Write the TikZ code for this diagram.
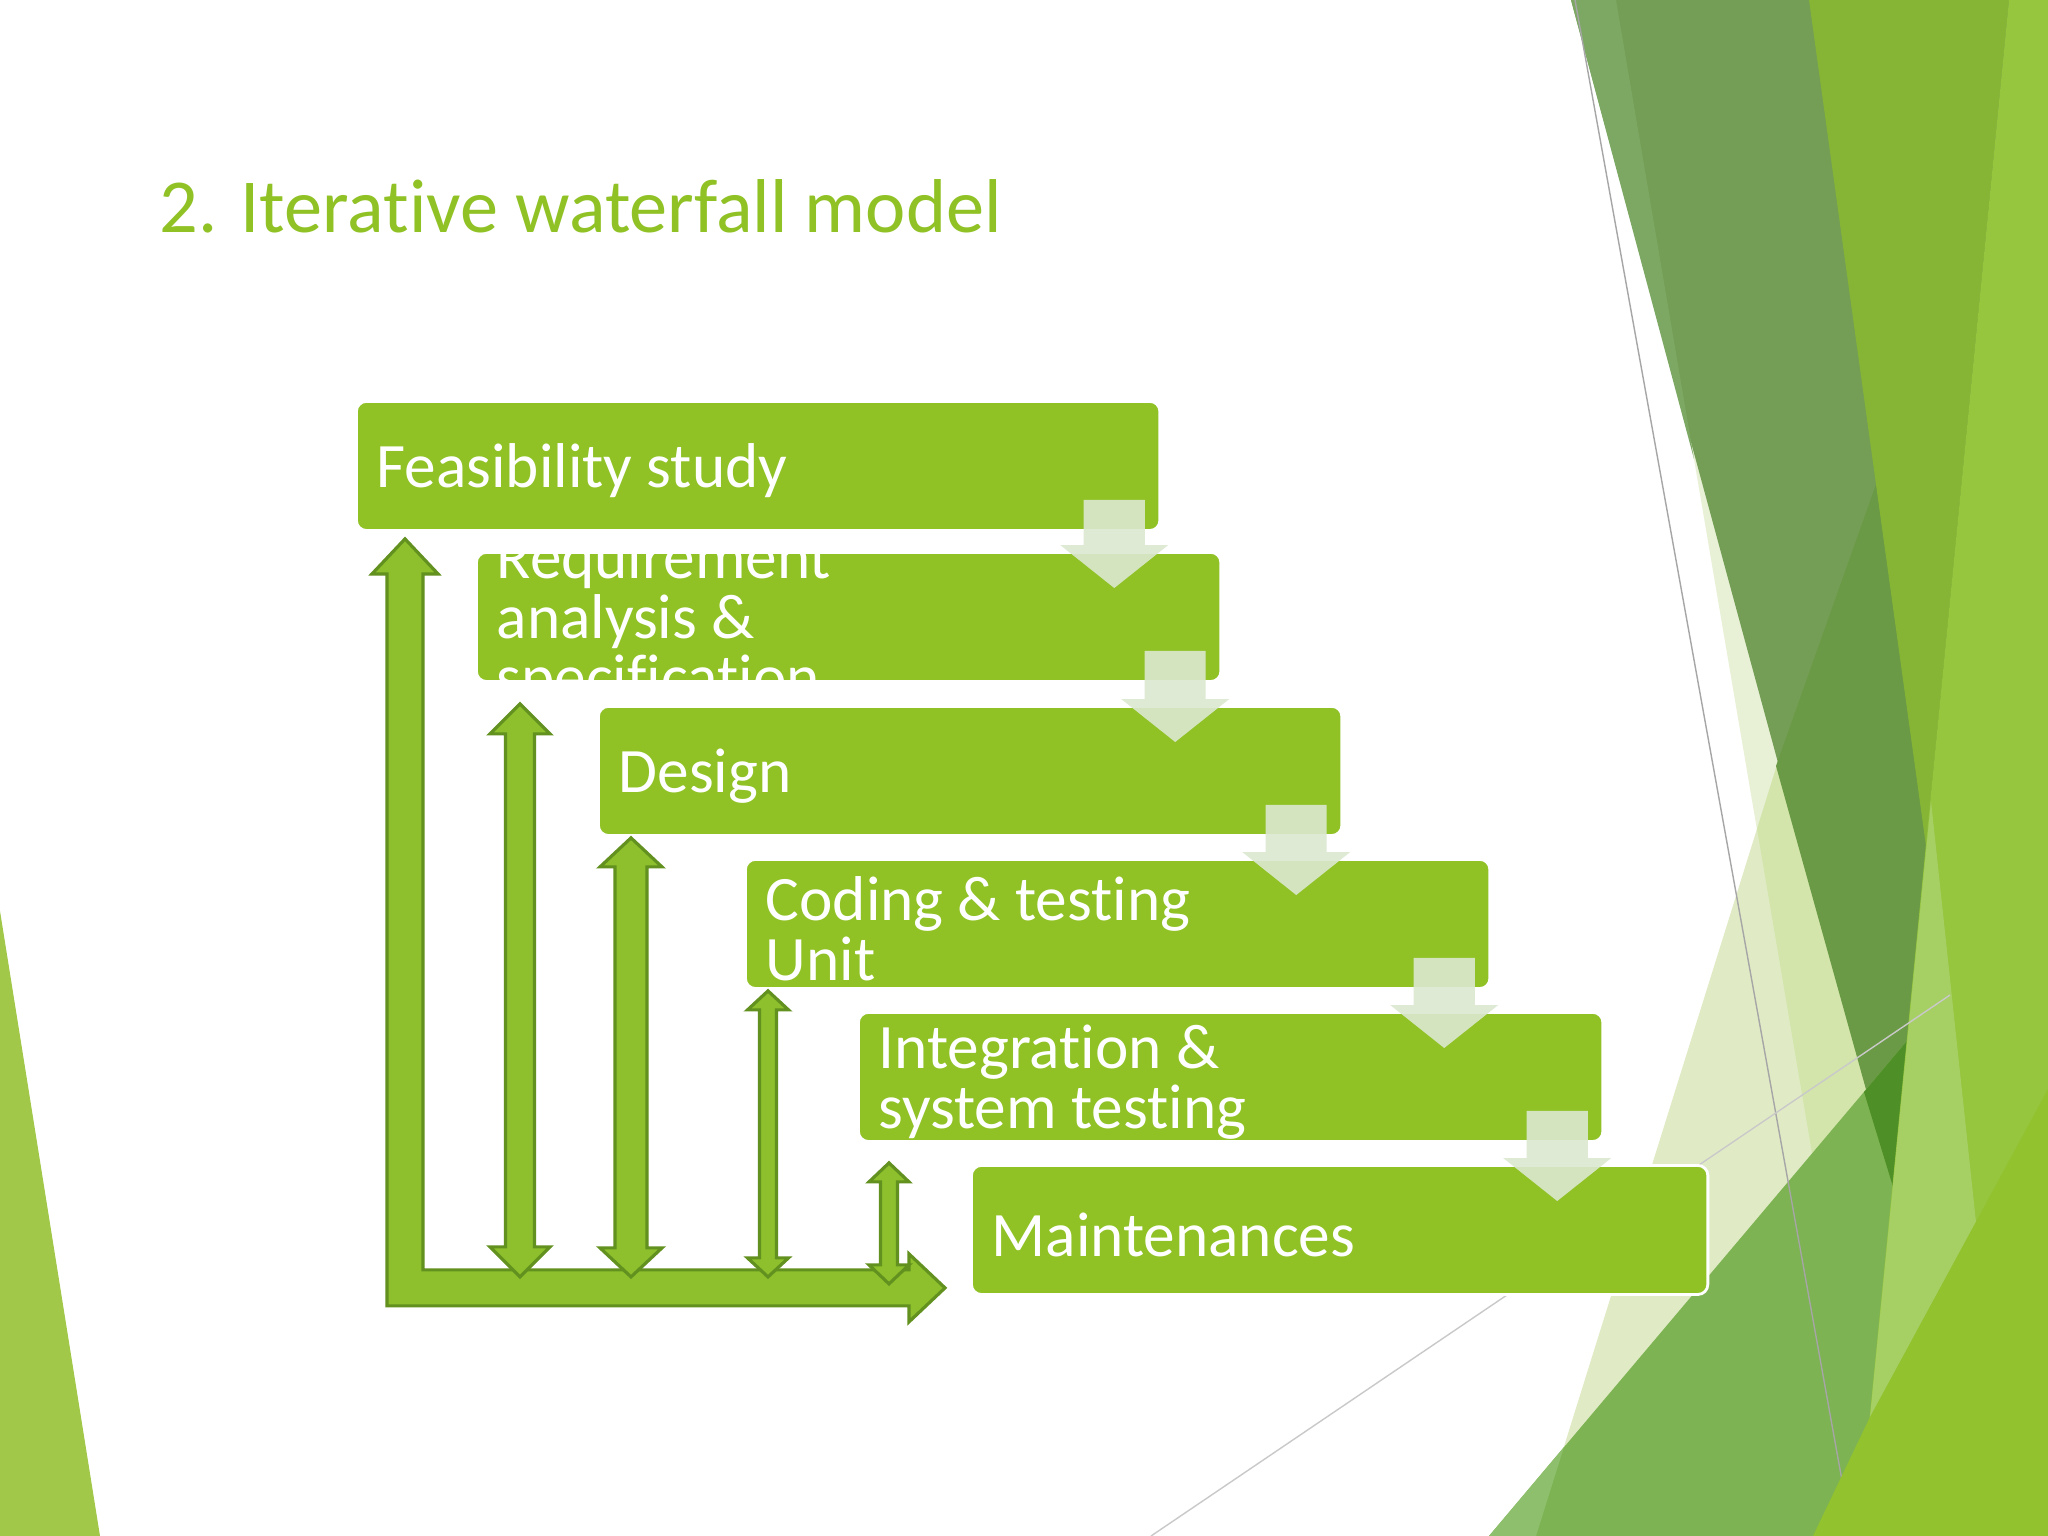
\documentclass[tikz,border=0pt]{standalone}
\usepackage{fontspec}
\setmainfont{Carlito}[Ligatures=NoCommon]
\usetikzlibrary{positioning, calc}

\definecolor{facetgreen}{HTML}{90C226}
\definecolor{palearrow}{HTML}{DBE8CF}
\definecolor{loopgreen}{HTML}{8DC02C}
\definecolor{loopedge}{HTML}{62911F}
% background facet colours
\definecolor{facetleft}{HTML}{A2C84A}
\definecolor{facetpaleA}{HTML}{E8F0D6}
\definecolor{facetpaleB}{HTML}{E0EBC6}
\definecolor{facetpaleC}{HTML}{D3E5AB}
\definecolor{facetmuted}{HTML}{749E55}
\definecolor{facetmutedlt}{HTML}{7CA864}
\definecolor{facetmuteddk}{HTML}{6A9A45}
\definecolor{facetmid}{HTML}{7DB352}
\definecolor{facetmidlt}{HTML}{8EBF6D}
\definecolor{facetdeep}{HTML}{4F8F27}
\definecolor{facetbright}{HTML}{86B536}
\definecolor{facetlight}{HTML}{96C53E}
\definecolor{facetlighter}{HTML}{A6CF64}
\definecolor{facetcorner}{HTML}{93C22F}
\definecolor{facetlineA}{HTML}{A6A6A6}
\definecolor{facetlineB}{HTML}{C9C9C9}

% pale step arrow from one box into the next
\newcommand{\stepdown}[2]{%
  \fill[flowarrow] let \p1=(#1.south east), \p2=(#2.north) in
    ({\x1-0.775cm},{\y1+0.32cm}) -- ({\x1-0.165cm},{\y1+0.32cm})
    -- ({\x1-0.165cm},{\y2+0.06cm}) -- ({\x1+0.07cm},{\y2+0.06cm})
    -- ({\x1-0.47cm},{\y2-0.37cm}) -- ({\x1-1.01cm},{\y2+0.06cm})
    -- ({\x1-0.775cm},{\y2+0.06cm}) -- cycle;}

% up/down block arrow: top, bottom, shaft half, head half, head length
\newcommand{\twoway}[5]{%
  \draw[loopback] let \p1=(#1), \p2=(#2) in
    (\x1,\y1) -- ({\x1+#4},{\y1-#5}) -- ({\x1+#3},{\y1-#5})
    -- ({\x1+#3},{\y2+#5}) -- ({\x1+#4},{\y2+#5}) -- (\x1,\y2)
    -- ({\x1-#4},{\y2+#5}) -- ({\x1-#3},{\y2+#5})
    -- ({\x1-#3},{\y1-#5}) -- ({\x1-#4},{\y1-#5}) -- cycle;}

\begin{document}
\begin{tikzpicture}[
  x=0.01cm, y=-0.01cm,
  % Define Node Styles
  stagebox/.style={draw=white, line width=0.8pt, fill=facetgreen, rounded corners=0.1cm,
    anchor=north west, inner sep=0pt, minimum height=1.29cm},
  stagetext/.style={anchor=west, inner sep=0pt, align=left, text=white,
    font=\fontsize{18pt}{17pt}\selectfont, yshift=-0.05cm},
  titletext/.style={anchor=base west, inner sep=0pt, text=facetgreen,
    font=\fontsize{21.7pt}{26pt}\selectfont},
  % Define Arrow Styles
  flowarrow/.style={fill=palearrow, fill opacity=0.9},
  loopback/.style={fill=loopgreen, draw=loopedge, line width=0.9pt, line join=miter},
  thinline/.style={line width=0.4pt}
  ]
  \useasboundingbox (0,0) rectangle (2048,1536);
  \fill[white] (0,0) rectangle (2048,1536);

  % Background facets
  \fill[facetleft] (0,911) -- (0,1536) -- (100,1536) -- cycle;
  \fill[facetpaleA] (1616,0) -- (2048,0) -- (2048,1536) -- (1877,1536) -- cycle;
  \fill[facetpaleB] (2016,0) -- (2048,0) -- (2048,1536) -- (1536,1536) -- cycle;
  \fill[facetpaleC] (2016,0) -- (1757,829) -- (1877,1536) -- (2048,1536) -- (2048,0) -- cycle;
  \fill[facetmuted] (1571,0) -- (2048,0) -- (1894,1190) -- cycle;
  \fill[facetmutedlt] (1571,0) -- (1616,0) -- (1694,459) -- cycle;
  \fill[facetmuteddk] (2030,0) -- (2048,0) -- (1776,766) -- (1894,1190) -- cycle;
  \fill[facetmid] (1489,1536) -- (2048,874) -- (2048,1536) -- cycle;
  \fill[facetmidlt] (1489,1536) -- (1564,1447) -- (1536,1536) -- cycle;
  \fill[facetdeep] (1864,1092) -- (1907,1041) -- (1894,1190) -- cycle;
  \draw[thinline, facetlineA] (1575,0) -- (1852,1536);
  \fill[facetbright] (1809,0) -- (2009,0) -- (1926,846) -- cycle;
  \fill[facetlight] (2009,0) -- (2048,0) -- (2048,1536) -- (1858,1536) -- cycle;
  \fill[facetlighter] (1931,801) -- (1976,1222) -- (1870,1417) -- cycle;
  \fill[facetcorner] (1813,1536) -- (1869,1419) -- (2048,1089) -- (2048,1536) -- cycle;
  \draw[thinline, facetlineB] (1151,1536) -- (1950,995);

  % Title
  \node[titletext] (title) at (159,232) {2. Iterative waterfall model};

  % Nodes
  \node[stagebox, minimum width=8.03cm] (feas) at (355,400) {};
  \node[stagebox, minimum width=7.44cm] (req) at (475,551) {};
  \node[stagebox, minimum width=7.43cm] (design) at (597,705) {};
  \node[stagebox, minimum width=7.44cm] (coding) at (744,858) {};
  \node[stagebox, minimum width=7.44cm] (integ) at (857,1011) {};
  \node[stagebox, minimum width=7.36cm] (maint) at (970,1164) {};

  \node[stagetext] (feastext) at ($(feas.west)+(21,0)$) {Feasibility study};
  \begin{scope}
    \clip[rounded corners=0.1cm] (req.south west) rectangle (req.north east);
    \node[stagetext] (reqtext) at ($(req.west)+(21,0)$) {Requirement\\analysis \&\\specification};
  \end{scope}
  \node[stagetext] (designtext) at ($(design.west)+(21,0)$) {Design};
  \node[stagetext] (codingtext) at ($(coding.west)+(21,0)$) {Coding \& testing\\Unit};
  \node[stagetext] (integtext) at ($(integ.west)+(21,0)$) {Integration \&\\system testing};
  \node[stagetext] (mainttext) at ($(maint.west)+(21,0)$) {Maintenances};

  % Step arrows (pale)
  \stepdown{feas}{req}
  \stepdown{req}{design}
  \stepdown{design}{coding}
  \stepdown{coding}{integ}
  \stepdown{integ}{maint}

  % Feedback arrows
  \coordinate (ltip) at ($(feas.south west)+(50,7)$);
  \coordinate (rtip) at ($(maint.south west)+(-25,-8)$);
  \draw[loopback] let \p1=(ltip), \p2=(rtip) in
    (\x1,\y1) -- ({\x1+0.33cm},{\y1-0.35cm}) -- ({\x1+0.18cm},{\y1-0.35cm})
    -- ({\x1+0.18cm},{\y2+0.18cm}) -- ({\x2-0.36cm},{\y2+0.18cm})
    -- ({\x2-0.36cm},{\y2+0.34cm}) -- (\x2,\y2) -- ({\x2-0.36cm},{\y2-0.34cm})
    -- ({\x2-0.36cm},{\y2-0.18cm}) -- ({\x1-0.18cm},{\y2-0.18cm})
    -- ({\x1-0.18cm},{\y1-0.35cm}) -- ({\x1-0.33cm},{\y1-0.35cm}) -- cycle;

  \coordinate (d1t) at ($(req.south west)+(45,21)$);
  \coordinate (d2t) at ($(design.south west)+(34,1)$);
  \coordinate (d3t) at ($(coding.south west)+(24,1)$);
  \coordinate (d4t) at ($(integ.south west)+(32,20)$);
  \coordinate (d1b) at ($(d1t |- rtip)+(0,-11)$);
  \coordinate (d2b) at ($(d2t |- rtip)+(0,-11)$);
  \coordinate (d3b) at ($(d3t |- rtip)+(0,-11)$);
  \coordinate (d4b) at ($(d4t |- rtip)+(0,-4)$);
  \twoway{d1t}{d1b}{0.145cm}{0.30cm}{0.30cm}
  \twoway{d2t}{d2b}{0.16cm}{0.31cm}{0.29cm}
  \twoway{d3t}{d3b}{0.085cm}{0.205cm}{0.19cm}
  \twoway{d4t}{d4b}{0.085cm}{0.20cm}{0.19cm}

\end{tikzpicture}
\end{document}
